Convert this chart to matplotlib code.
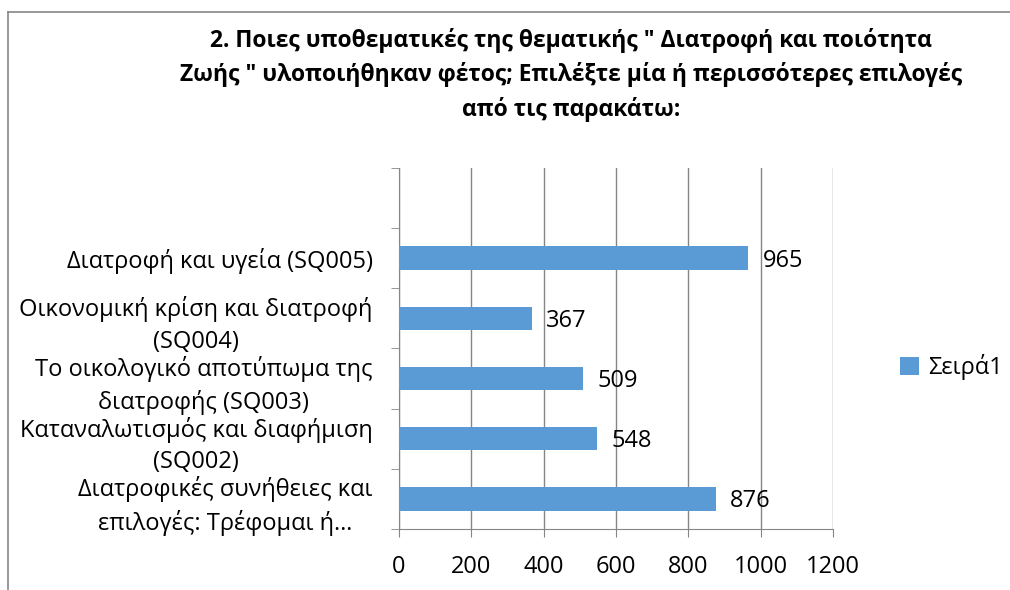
import matplotlib
matplotlib.use("Agg")
import matplotlib.pyplot as plt
from matplotlib.lines import Line2D

plt.rcParams['font.family'] = ['Open Sans', 'DejaVu Sans']

# categories from bottom to top (the top slot of the chart stays empty)
categories = [
    "Διατροφικές συνήθειες και\nεπιλογές: Τρέφομαι ή…",
    "Καταναλωτισμός και διαφήμιση\n(SQ002)",
    "Το οικολογικό αποτύπωμα της\nδιατροφής (SQ003)",
    "Οικονομική κρίση και διατροφή\n(SQ004)",
    "Διατροφή και υγεία (SQ005)",
]
values = [876, 548, 509, 367, 965]
series_name = "Σειρά1"
x_ticks = [0, 200, 400, 600, 800, 1000, 1200]
title = ("2. Ποιες υποθεματικές της θεματικής \" Διατροφή και ποιότητα\n"
         "Ζωής \" υλοποιήθηκαν φέτος; Επιλέξτε μία ή περισσότερες επιλογές\n"
         "από τις παρακάτω:")

bar_color = '#5B9BD5'
grid_color = '#868686'
fs = 17

fig = plt.figure(figsize=(10.1, 5.9), dpi=100)
ax = fig.add_axes([0.395, 0.1034, 0.4297, 0.6119])

pos = list(range(len(categories)))
ax.barh(pos, values, height=0.39, color=bar_color, zorder=3, label=series_name)
for p, v in zip(pos, values):
    ax.text(v + 40, p - 0.04, str(v), va='center', ha='left', fontsize=fs, color='black')

ax.set_xlim(0, 1200)
ax.set_ylim(-0.5, len(categories) + 0.5)
ax.set_xticks(x_ticks)
ax.set_xticklabels([str(t) for t in x_ticks])
ax.set_yticks(pos)
ax.set_yticklabels(categories)
ax.set_yticks([p - 0.5 for p in range(len(categories) + 2)], minor=True)
for t in ax.get_yticklabels():
    t.set_multialignment('center')
    t.set_linespacing(1.4)

ax.grid(axis='x', color=grid_color, linewidth=1, zorder=0)
for s in ['top', 'right']:
    ax.spines[s].set_visible(False)
for s in ['left', 'bottom']:
    ax.spines[s].set_color(grid_color)
ax.tick_params(axis='y', which='major', length=0, pad=19, labelsize=fs)
ax.tick_params(axis='y', which='minor', length=6, color=grid_color, direction='out')
ax.tick_params(axis='x', length=6, color=grid_color, direction='out', pad=13, labelsize=fs)

fig.text(0.565, 0.953, title, ha='center', va='top', fontsize=16.5, fontweight='bold',
         linespacing=1.5)

fig.legend(loc='center left', bbox_to_anchor=(0.87, 0.378), frameon=False, fontsize=fs,
           handlelength=0.8, handleheight=0.8, handletextpad=0.4)

# chart area border
fig.add_artist(Line2D([8 / 1010, 1.0], [1 - 12 / 590, 1 - 12 / 590], color=grid_color, lw=1.2,
                      transform=fig.transFigure))
fig.add_artist(Line2D([8 / 1010, 8 / 1010], [0, 1 - 12 / 590], color=grid_color, lw=1.2,
                      transform=fig.transFigure))

fig.savefig('out.png', dpi=100)
